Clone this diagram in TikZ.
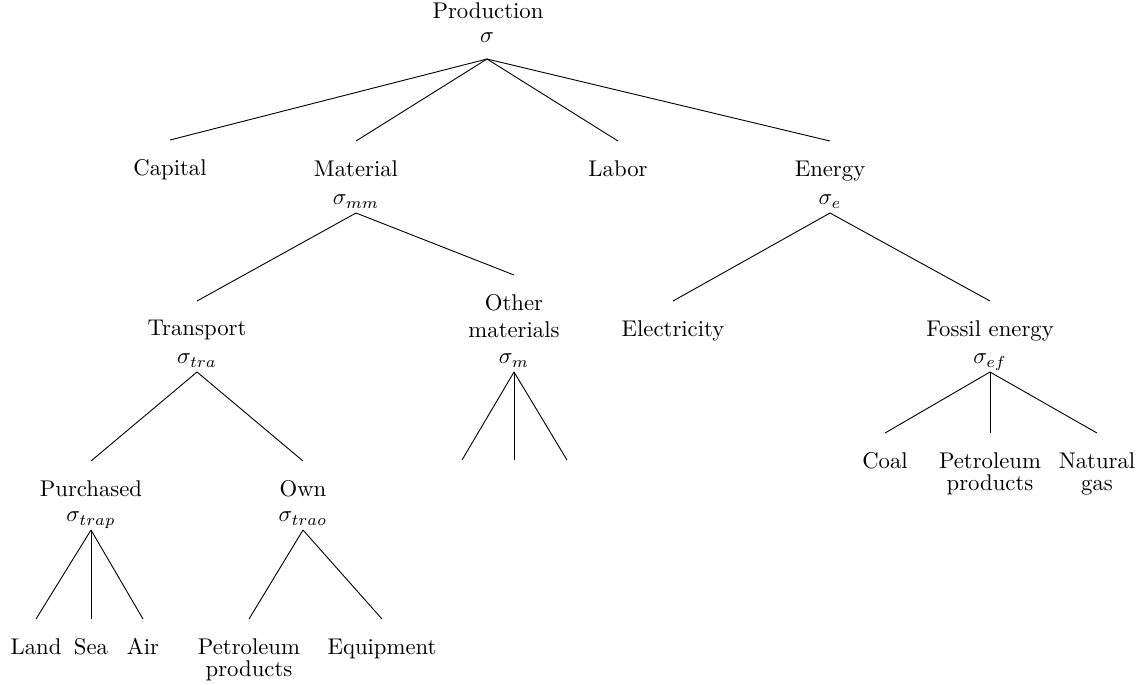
\documentclass[tikz,border=0pt]{standalone}
\usepackage{amsmath}

\begin{document}
\begin{tikzpicture}[x=0.44pt,y=-0.44pt,
    lbl/.style={anchor=north,align=center,inner xsep=0pt,inner ysep=8.4pt},
    sig/.style={anchor=south,inner sep=0pt,inner ysep=0.8pt,text depth=2.6pt}]
    \useasboundingbox (0,0) rectangle (1143,684);
    \node (prod) at (488,11) {Production};
    \node[sig,inner ysep=4.4pt] (s) at (487,59) {$\sigma$};
    \node[lbl] (cap) at (170,140) {Capital};
    \node[lbl] (mat) at (356,141) {Material};
    \node[lbl] (lab) at (618,141) {Labor};
    \node[lbl] (ene) at (830,141) {Energy};
    \node[sig] (smm) at (356,213) {$\sigma_{mm}$};
    \node[sig] (se) at (830,213) {$\sigma_e$};
    \node[lbl] (tra) at (197,301) {Transport};
    \node[lbl] (oth) at (514,275) {Other\\materials};
    \node[lbl] (ele) at (673,301) {Electricity};
    \node[lbl] (fos) at (990,301) {Fossil energy};
    \node[sig] (stra) at (197,372) {$\sigma_{tra}$};
    \node[sig] (sm) at (514,372) {$\sigma_m$};
    \node[sig] (sef) at (990,372) {$\sigma_{ef}$};
    \coordinate (m1) at (462,460);
    \coordinate (m2) at (514,460);
    \coordinate (m3) at (567,460);
    \node[lbl] (pur) at (91,461) {Purchased};
    \node[lbl] (own) at (303,461) {Own};
    \node[lbl] (coa) at (885,433) {Coal};
    \node[lbl] (ptr) at (990,433) {Petroleum\\[-2.4pt]products};
    \node[lbl] (gas) at (1097,433) {Natural\\[-2.4pt]gas};
    \node[sig] (strap) at (91,530) {$\sigma_{trap}$};
    \node[sig] (strao) at (303,530) {$\sigma_{trao}$};
    \node[lbl] (lnd) at (36,619) {Land};
    \node[lbl] (sea) at (91,619) {Sea};
    \node[lbl] (air) at (143,619) {Air};
    \node[lbl] (pet) at (249,619) {Petroleum\\[-2.4pt]products};
    \node[lbl] (equ) at (382,619) {Equipment};
    \foreach \c in {cap,mat,lab,ene} \draw (s.south) -- (\c.north);
    \foreach \c in {tra,oth} \draw (smm.south) -- (\c.north);
    \foreach \c in {ele,fos} \draw (se.south) -- (\c.north);
    \foreach \c in {pur,own} \draw (stra.south) -- (\c.north);
    \foreach \c in {m1,m2,m3} \draw (sm.south) -- (\c);
    \foreach \c in {coa,ptr,gas} \draw (sef.south) -- (\c.north);
    \foreach \c in {lnd,sea,air} \draw (strap.south) -- (\c.north);
    \foreach \c in {pet,equ} \draw (strao.south) -- (\c.north);
\end{tikzpicture}
\end{document}
